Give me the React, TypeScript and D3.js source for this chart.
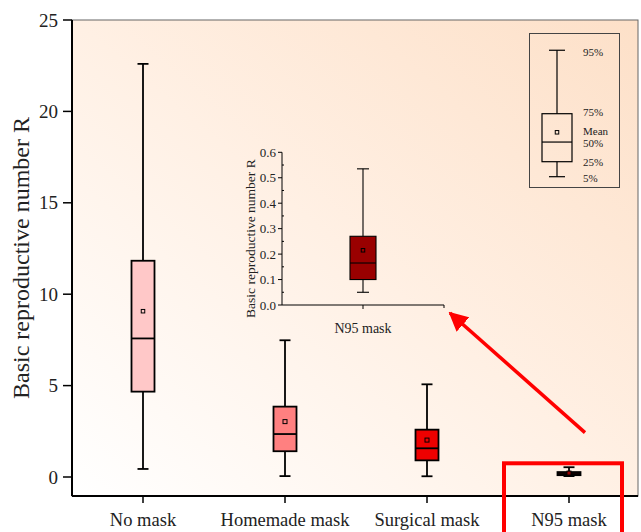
import React from "react";
import * as d3 from "d3";

const categories = ["No mask", "Homemade mask", "Surgical mask", "N95 mask"];
const p5 = [0.44, 0.05, 0.04, 0.05];
const p25 = [4.67, 1.41, 0.91, 0.1];
const median = [7.58, 2.35, 1.57, 0.165];
const mean = [9.07, 3.03, 2.02, 0.215];
const p75 = [11.83, 3.85, 2.59, 0.27];
const p95 = [22.6, 7.48, 5.07, 0.535];
const fills = ["#ffc8c8", "#ff8080", "#ee0000", "#990000"];
const yTicks = [0, 5, 10, 15, 20, 25];
const insetTicks = [0, 0.1, 0.2, 0.3, 0.4, 0.5, 0.6];
const legendLabels = ["5%", "25%", "50%", "Mean", "75%", "95%"];
const legendValues = [1.0, 2.0, 3.31, 3.96, 5.2, 9.43];

const W = 641;
const H = 532;
const font = "'Liberation Serif', 'Times New Roman', serif";

function BoxPlot({ cx, y, lo, q1, med, mn, q3, hi, fill, bw, cw, sw = 1.5, ms = 4 }: any) {
  return (
    <g>
      <line x1={cx} x2={cx} y1={y(hi)} y2={y(q3)} stroke="#000" strokeWidth={sw} />
      <line x1={cx} x2={cx} y1={y(q1)} y2={y(lo)} stroke="#000" strokeWidth={sw} />
      <line x1={cx - cw / 2} x2={cx + cw / 2} y1={y(hi)} y2={y(hi)} stroke="#000" strokeWidth={sw} />
      <line x1={cx - cw / 2} x2={cx + cw / 2} y1={y(lo)} y2={y(lo)} stroke="#000" strokeWidth={sw} />
      <rect x={cx - bw / 2} y={y(q3)} width={bw} height={y(q1) - y(q3)} fill={fill} stroke="#000" strokeWidth={sw} />
      <line x1={cx - bw / 2} x2={cx + bw / 2} y1={y(med)} y2={y(med)} stroke="#000" strokeWidth={sw} />
      <rect x={cx - ms / 2} y={y(mn) - ms / 2} width={ms} height={ms} fill={fill} stroke="#000" strokeWidth={1} />
    </g>
  );
}

export default function App() {
  const left = 72, right = 638, top = 20, bottom = 496;
  const x = d3.scaleBand<string>().domain(categories).range([72, 640]).padding(0);
  const yMain = d3.scaleLinear().domain([0, 25]).range([477, 20]);
  const cx = (c: string) => (x(c) as number) + x.bandwidth() / 2;

  // inset
  const iLeft = 282, iRight = 444, iBottom = 305, iTop = 152.3;
  const iy = d3.scaleLinear().domain([0, 0.6]).range([iBottom, iTop]);
  const icx = 363;
  const minor = d3.range(0.05, 0.6, 0.1);

  // legend
  const ly = d3.scaleLinear().domain([0, 10]).range([191.7, 41.7]);
  const lcx = 557;

  const n95 = cx("N95 mask");

  return (
    <svg width={W} height={H} style={{ position: "absolute", left: 0, top: 0 }} fontFamily={font}>
      <defs>
        <linearGradient id="bg" x1="0" y1="1" x2="1" y2="0">
          <stop offset="0" stopColor="#ffffff" />
          <stop offset="0.5" stopColor="#fff0e4" />
          <stop offset="1" stopColor="#fde0c8" />
        </linearGradient>
        <marker id="ah" viewBox="0 0 10 10" refX="9" refY="5" markerWidth="5.5" markerHeight="5.5" orient="auto">
          <path d="M0,0 L10,5 L0,10 z" fill="#ff0000" />
        </marker>
      </defs>
      <rect x={0} y={0} width={W} height={H} fill="#fff" />
      <rect x={left} y={top} width={right - left} height={bottom - top} fill="url(#bg)" stroke="#666" strokeWidth={1} />

      {/* main boxes */}
      {categories.map((c, i) => (
        <BoxPlot key={c} cx={cx(c)} y={yMain} lo={p5[i]} q1={p25[i]} med={median[i]} mn={mean[i]} q3={p75[i]} hi={p95[i]}
          fill={fills[i]} bw={23} cw={11} sw={1.8} ms={i === 0 ? 3.5 : 4} />
      ))}

      {/* axes */}
      <line x1={left} x2={left} y1={top} y2={bottom} stroke="#000" strokeWidth={2} />
      <line x1={left} x2={right} y1={bottom} y2={bottom} stroke="#000" strokeWidth={2} />
      {yTicks.map((t) => (
        <g key={t}>
          <line x1={left - 9} x2={left} y1={yMain(t)} y2={yMain(t)} stroke="#000" strokeWidth={1.5} />
          <text x={left - 14} y={yMain(t)} dy="0.35em" textAnchor="end" fontSize={19} fill="#222">{t}</text>
        </g>
      ))}
      {categories.map((c) => (
        <g key={c}>
          <line x1={cx(c)} x2={cx(c)} y1={bottom} y2={bottom + 7} stroke="#000" strokeWidth={1.5} />
          <text x={cx(c)} y={526} textAnchor="middle" fontSize={18.5} fill="#222">{c}</text>
        </g>
      ))}
      <text transform={`translate(29,${(top + bottom) / 2}) rotate(-90)`} textAnchor="middle" fontSize={24} fill="#222">
        Basic reproductive number R
      </text>

      {/* inset */}
      <BoxPlot cx={icx} y={iy} lo={p5[3]} q1={p25[3]} med={median[3]} mn={mean[3]} q3={p75[3]} hi={p95[3]}
        fill={fills[3]} bw={26} cw={12} sw={1.1} ms={3.5} />
      <line x1={iLeft} x2={iLeft} y1={iTop} y2={iBottom} stroke="#000" strokeWidth={1} />
      <line x1={iLeft} x2={iRight} y1={iBottom} y2={iBottom} stroke="#000" strokeWidth={1} />
      <line x1={iRight} x2={iRight} y1={iBottom} y2={iBottom + 3} stroke="#000" strokeWidth={1} />
      {insetTicks.map((t) => (
        <g key={t}>
          <line x1={iLeft - 4} x2={iLeft} y1={iy(t)} y2={iy(t)} stroke="#000" strokeWidth={1} />
          <text x={iLeft - 6} y={iy(t)} dy="0.35em" textAnchor="end" fontSize={13} fill="#222">{t.toFixed(1)}</text>
        </g>
      ))}
      {minor.map((t) => (
        <line key={t} x1={iLeft} x2={iLeft + 2} y1={iy(t)} y2={iy(t)} stroke="#000" strokeWidth={1} />
      ))}
      <line x1={icx} x2={icx} y1={iBottom} y2={iBottom + 4} stroke="#000" strokeWidth={1} />
      <text x={icx} y={333} textAnchor="middle" fontSize={14} fill="#222">N95 mask</text>
      <text transform={`translate(255,${(iTop + iBottom + 10) / 2 + 5}) rotate(-90)`} textAnchor="middle" fontSize={13.5} fill="#222">
        Basic reproductive number R
      </text>

      {/* legend */}
      <rect x={529.5} y={33.5} width={90} height={154} fill="none" stroke="#444" strokeWidth={1} />
      <BoxPlot cx={lcx} y={ly} lo={legendValues[0]} q1={legendValues[1]} med={legendValues[2]} mn={legendValues[3]}
        q3={legendValues[4]} hi={legendValues[5]} fill="none" bw={30} cw={16} sw={1.2} ms={3.5} />
      {legendLabels.map((l, i) => {
        const off = l === "Mean" ? -1.5 : l === "50%" ? 1 : l === "75%" ? -1.5 : l === "95%" ? 1.5 : l === "5%" ? 1.5 : 0;
        return (
          <text key={l} x={583} y={ly(legendValues[i]) + off} dy="0.35em" fontSize={11} fill="#222">{l}</text>
        );
      })}

      {/* annotations */}
      <rect x={n95 - 65} y={yMain(0.75)} width={118} height={H} fill="none" stroke="#ff0000" strokeWidth={4} />
      <line x1={n95 + 16} y1={yMain(2.43)} x2={iRight + 6} y2={iBottom + 8} stroke="#ff0000" strokeWidth={3.5} markerEnd="url(#ah)" />
    </svg>
  );
}
